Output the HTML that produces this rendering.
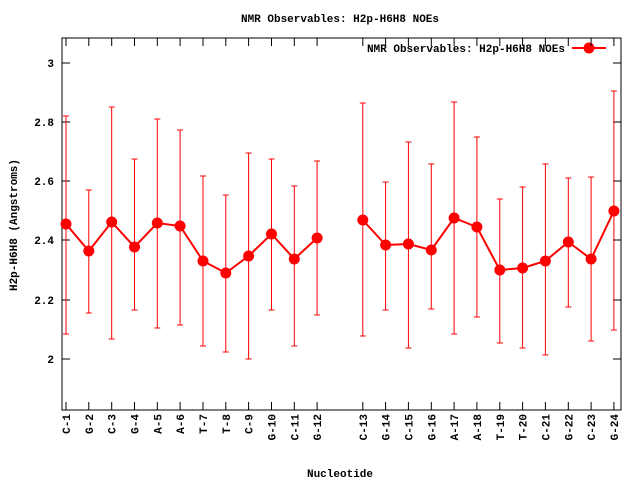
<!DOCTYPE html>
<html><head><meta charset="utf-8"><style>
body{margin:0;background:#fff;width:640px;height:480px;overflow:hidden}
svg text{font-family:"Liberation Mono","DejaVu Sans Mono",monospace;font-size:11px;font-weight:bold;fill:#000}
</style></head><body>
<svg id="s" width="640" height="480" xmlns="http://www.w3.org/2000/svg">
<rect x="62" y="38" width="559" height="372" fill="none" stroke="#000" stroke-width="1"/>
<text x="340" y="22" text-anchor="middle">NMR Observables: H2p-H6H8 NOEs</text>
<text x="340" y="477" text-anchor="middle">Nucleotide</text>
<text transform="translate(17,225) rotate(-90)" text-anchor="middle">H2p-H6H8 (Angstroms)</text>
<text x="565" y="52" text-anchor="end">NMR Observables: H2p-H6H8 NOEs</text>
<line x1="572" y1="48" x2="606" y2="48" stroke="#f00" stroke-width="2"/>
<circle cx="589" cy="48" r="5.5" fill="#f00"/>
<g id="g"></g>
</svg>
<script>
const g=document.getElementById('g');let h='';
const yt=[[3,63],[2.8,122],[2.6,181],[2.4,240],[2.2,300],[2,359]];
for(const [v,y] of yt){h+=`<line x1="62" y1="${y}" x2="70" y2="${y}" stroke="#000"/><line x1="613" y1="${y}" x2="621" y2="${y}" stroke="#000"/><text x="54" y="${y+4}" text-anchor="end">${v==3||v==2?v:v.toFixed(1).replace('.',',')}</text>`;}
const d=[["C-1",224,116,334],["G-2",251,190,313],["C-3",222,107,339],["G-4",247,159,310],["A-5",223,119,328],["A-6",226,130,325],["T-7",261,176,346],["T-8",273,195,352],["C-9",256,153,359],["G-10",234,159,310],["C-11",259,186,346],["G-12",238,161,315],
["C-13",220,103,336],["G-14",245,182,310],["C-15",244,142,348],["G-16",250,164,309],["A-17",218,102,334],["A-18",227,137,317],["T-19",270,199,343],["T-20",268,187,348],["C-21",261,164,355],["G-22",242,178,307],["C-23",259,177,341],["G-24",211,91,330]];
const X=i=>66+(i<12?i:i+1)*22.83;
let p1='',p2='';
d.forEach((r,i)=>{const x=X(i).toFixed(1);
h+=`<line x1="${x}" y1="410" x2="${x}" y2="402" stroke="#000"/><line x1="${x}" y1="38" x2="${x}" y2="46" stroke="#000"/>`;
h+=`<text transform="translate(${+x+4},${414}) rotate(-90)" text-anchor="end">${r[0]}</text>`;
h+=`<line x1="${x}" y1="${r[2]}" x2="${x}" y2="${r[3]}" stroke="#f00"/><line x1="${x-3}" y1="${r[2]}" x2="${+x+3}" y2="${r[2]}" stroke="#f00"/><line x1="${x-3}" y1="${r[3]}" x2="${+x+3}" y2="${r[3]}" stroke="#f00"/>`;
if(i<12)p1+=x+','+r[1]+' ';else p2+=x+','+r[1]+' ';});
h+=`<polyline points="${p1}" fill="none" stroke="#f00" stroke-width="2"/><polyline points="${p2}" fill="none" stroke="#f00" stroke-width="2"/>`;
d.forEach((r,i)=>{h+=`<circle cx="${X(i).toFixed(1)}" cy="${r[1]}" r="5.5" fill="#f00"/>`;});
g.innerHTML=h.replace(/>(\d),(\d)</g,'>$1.$2<');
</script>
</body></html>
